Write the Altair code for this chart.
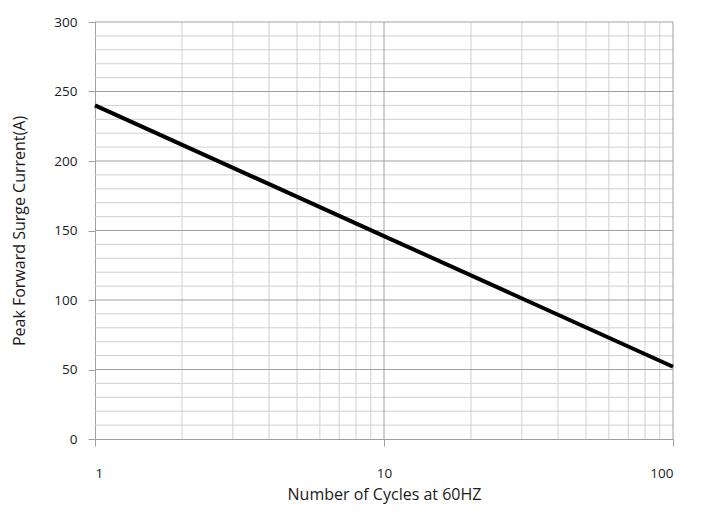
import altair as alt
import pandas as pd

cycles = [1, 10, 100]
current = [240, 146, 52]

y_minor = [v for v in range(10, 300, 10) if v % 50 != 0]
y_major = [50, 100, 150, 200, 250, 300]
x_minor = [2, 3, 4, 5, 6, 7, 8, 9, 20, 30, 40, 50, 60, 70, 80, 90]
x_major = [10, 100]

FONT = "Open Sans"
W, H = 578, 417

xs = alt.Scale(type="log", domain=[1, 100])
ys = alt.Scale(domain=[0, 300])

line_df = pd.DataFrame({"x": cycles, "y": current})

ymin = alt.Chart(pd.DataFrame({"y": y_minor})).mark_rule(color="#d0d0d0", strokeWidth=1).encode(
    y=alt.Y("y:Q", scale=ys))
ymaj = alt.Chart(pd.DataFrame({"y": y_major})).mark_rule(color="#a0a0a0", strokeWidth=1).encode(
    y=alt.Y("y:Q", scale=ys))
xmin = alt.Chart(pd.DataFrame({"x": x_minor})).mark_rule(color="#d0d0d0", strokeWidth=1).encode(
    x=alt.X("x:Q", scale=xs))
xmaj = alt.Chart(pd.DataFrame({"x": x_major})).mark_rule(color="#a0a0a0", strokeWidth=1).encode(
    x=alt.X("x:Q", scale=xs))

line = alt.Chart(line_df).mark_line(color="black", strokeWidth=4).encode(
    x=alt.X("x:Q", scale=xs,
            axis=alt.Axis(title="Number of Cycles at 60HZ", values=[1, 10, 100], format="d",
                          grid=False, domainColor="#a0a0a0", tickColor="#a0a0a0", tickSize=7,
                          labelPadding=20, titlePadding=7)),
    y=alt.Y("y:Q", scale=ys,
            axis=alt.Axis(title="Peak Forward Surge Current(A)", values=[0, 50, 100, 150, 200, 250, 300],
                          grid=False, domainColor="#a0a0a0", tickColor="#a0a0a0", tickSize=7,
                          labelPadding=11, titlePadding=26)),
)

chart = alt.layer(ymin, xmin, ymaj, xmaj, line).properties(
    width=W, height=H,
    autosize=alt.AutoSizeParams(type="none"),
    padding={"left": 87, "top": 14, "right": 23, "bottom": 66},
).configure_axis(
    labelFont=FONT, titleFont=FONT, labelFontSize=13.5, titleFontSize=16,
    labelColor="#1a1a1a", titleColor="#1a1a1a", titleFontWeight="normal",
    domainWidth=1,
).configure_view(stroke=None)

chart.save("out.html", embed_options={"renderer": "svg", "actions": False})
